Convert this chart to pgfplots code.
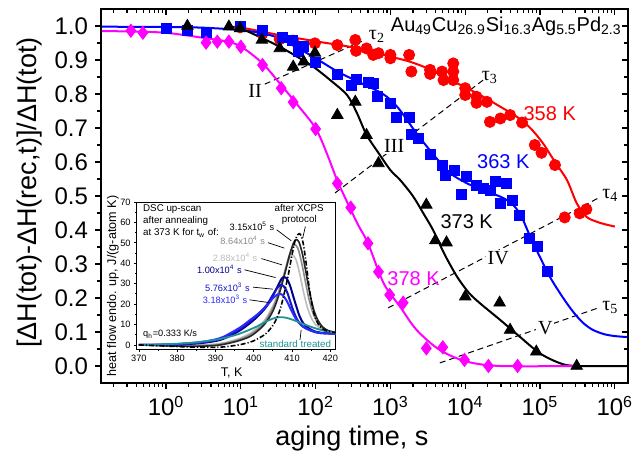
\documentclass[border=0pt]{standalone}
\usepackage{fontspec}
\setmainfont{Liberation Sans}
\newfontfamily\serif{Liberation Serif}
\usepackage{pgfplots}
\pgfplotsset{compat=1.18}

\definecolor{cRed}{RGB}{255,0,0}
\definecolor{cBlue}{RGB}{0,0,255}
\definecolor{cMag}{RGB}{255,0,255}
\definecolor{dscA}{HTML}{2B2BFF}
\definecolor{dscB}{HTML}{1414C8}
\definecolor{dscC}{HTML}{00008C}
\definecolor{dscD}{HTML}{BDBDBD}
\definecolor{dscE}{HTML}{8A8A8A}
\definecolor{dscF}{HTML}{262626}
\definecolor{tealstd}{HTML}{1F9393}

\newcommand{\fs}[1]{\fontsize{#1}{#1}\selectfont}

\begin{document}
\begin{tikzpicture}
\path[use as bounding box] (-50.5pt,-34pt) rectangle (271.5pt,191.5pt);

% ---------------- main axis ----------------
\begin{axis}[
  at={(0pt,0pt)}, anchor=south west,
  scale only axis, width=263.5pt, height=187pt,
  xmode=log,
  xmin=0.135, xmax=1.5e6, ymin=-0.05, ymax=1.05,
  xtick={1,10,100,1000,10000,100000,1000000},
  xticklabels={10\textsuperscript{0},10\textsuperscript{1},10\textsuperscript{2},10\textsuperscript{3},10\textsuperscript{4},10\textsuperscript{5},10\textsuperscript{6}},
  minor xtick={0.2,0.3,0.4,0.5,0.6,0.7,0.8,0.9,2,3,4,5,6,7,8,9,20,30,40,50,60,70,80,90,200,300,400,500,600,700,800,900,2000,3000,4000,5000,6000,7000,8000,9000,20000,30000,40000,50000,60000,70000,80000,90000,200000,300000,400000,500000,600000,700000,800000,900000},
  ytick={0,0.1,0.2,0.3,0.4,0.5,0.6,0.7,0.8,0.9,1.0},
  minor y tick num=1,
  yticklabel={\pgfmathprintnumber[assume math mode=true,fixed,fixed zerofill,precision=1]{\tick}},
  tick align=outside, xtick pos=left, ytick pos=left,
  major tick length=3pt, minor tick length=1.8pt,
  every tick/.style={black, line width=0.6pt},
  axis line style={line width=0.75pt},
  ticklabel style={font=\fs{12}},
  xlabel={aging time, s},
  ylabel={[ΔH(tot)-ΔH(rec,t)]/ΔH(tot)},
  xlabel style={font=\fs{13.5}, at={(axis description cs:0.476,-0.168)}, anchor=base},
  ylabel style={font=\fs{13.5}, at={(axis description cs:-0.1347,0.509)}, anchor=center},
]

% tau guide lines
\addplot[black, line width=0.5pt, dash pattern=on 3pt off 2pt] coordinates {(20.9,0.829) (457,0.959)};
\addplot[black, line width=0.5pt, dash pattern=on 3pt off 2pt] coordinates {(182,0.509) (17378,0.841)};
\addplot[black, line width=0.5pt, dash pattern=on 3pt off 2pt] coordinates {(933,0.171) (602560,0.494)};
\addplot[black, line width=0.5pt, dash pattern=on 3pt off 2pt] coordinates {(4571,0.009) (602560,0.171)};

% 358 K
\addplot[cRed, line width=1pt, smooth] coordinates {
(8.913,0.998) (17.78,0.985) (31.62,0.974) (100,0.955) (316.2,0.937) (1000,0.91)
(1820,0.895) (3162,0.875) (6310,0.841) (10000,0.82) (17378,0.792) (28184,0.765)
(48978,0.733) (74131,0.70) (109648,0.655) (158489,0.60) (229087,0.547)
(309030,0.479) (416869,0.439) (562341,0.425) (707946,0.418) (1000000,0.41)};
\addplot[only marks, mark=*, mark size=2.8pt, cRed] coordinates {
(9.77,0.996) (19.5,0.978) (33.1,0.961) (50.1,0.957) (97.7,0.949) (195,0.944)
(339,0.959) (347,0.927) (479,0.934) (589,0.915) (692,0.920) (1000,0.915) (1000,0.905)
(1778,0.915) (1905,0.866) (3388,0.871) (3388,0.859) (4898,0.866) (5129,0.841)
(6918,0.890) (6918,0.866) (6918,0.841) (10000,0.817) (10000,0.797) (14125,0.792)
(14125,0.774) (19498,0.777) (21380,0.718) (29512,0.728) (39811,0.738) (57544,0.716)
(85114,0.650) (104713,0.627) (158489,0.591) (213796,0.437) (338844,0.449) (416869,0.461)};

% 363 K
\addplot[cBlue, line width=1pt, smooth] coordinates {
(0.1349,0.998) (1,0.997) (3.162,0.995) (10,0.988) (19.95,0.978) (31.62,0.965)
(56.23,0.937) (100,0.905) (199.5,0.865) (354.8,0.838) (794.3,0.80) (1259,0.76)
(2239,0.684) (3981,0.615) (6310,0.567) (10000,0.54) (15849,0.52) (22387,0.508)
(31623,0.495) (43652,0.474) (56234,0.44) (74131,0.38) (100000,0.32) (134896,0.263)
(177828,0.22) (229087,0.184) (295121,0.152) (380189,0.126) (501187,0.107)
(707946,0.094) (1000000,0.088) (1500000,0.085)};
\addplot[only marks, mark=square*, mark size=2.5pt, cBlue] coordinates {
(1,0.993) (1.93,0.988) (3.43,0.980) (9.77,0.998) (19.5,0.986) (35.5,0.967) (49,0.957)
(58.9,0.924) (69.2,0.939) (100,0.893) (195,0.859) (302,0.824) (347,0.844) (501,0.834)
(589,0.831) (676,0.794) (988,0.771) (1202,0.731) (1778,0.731) (1905,0.680) (2344,0.670)
(3388,0.621) (5012,0.589) (5370,0.562) (7244,0.576) (8913,0.506) (10471,0.559)
(14125,0.532) (17378,0.523) (21380,0.516) (25119,0.542) (29174,0.478) (35481,0.537)
(42658,0.486) (52481,0.444) (72444,0.375) (91201,0.353) (125893,0.277)};

% 373 K
\addplot[black, line width=1pt, smooth] coordinates {
(6.31,0.999) (9.77,0.993) (17.78,0.968) (33.11,0.939) (56.23,0.91) (93.33,0.88)
(158.5,0.84) (263,0.797) (354.8,0.745) (478.6,0.68) (676.1,0.63) (1000,0.576)
(1349,0.547) (1995,0.50) (2754,0.449) (3715,0.40) (5248,0.33) (7762,0.263)
(11220,0.215) (15849,0.184) (29512,0.135) (53703,0.086) (100000,0.037)
(186209,0.008) (309030,0.0) (1500000,0.0)};
\addplot[only marks, mark=triangle*, mark size=3.3pt, black] coordinates {
(1.93,1.0) (6.92,0.998) (9.77,0.993) (19.1,0.959) (33.1,0.934) (50.1,0.880) (69.2,0.895)
(97.7,0.921) (195,0.738) (339,0.777) (479,0.679) (692,0.596) (3020,0.474) (3981,0.369)
(5623,0.363) (10000,0.204) (28840,0.186) (39811,0.106) (89125,0.042) (309030,0.0)};

% 378 K
\addplot[cMag, line width=1pt, smooth] coordinates {
(0.1349,0.985) (0.3162,0.984) (1,0.98) (3.428,0.964) (6.31,0.955) (10,0.94)
(19.5,0.89) (34.67,0.826) (56.23,0.77) (100,0.699) (141.3,0.625) (195,0.545)
(288.4,0.464) (380.2,0.41) (501.2,0.361) (812.8,0.243) (1349,0.174) (2239,0.106)
(4571,0.047) (10471,0.013) (29512,0.0) (281838,0.0)};
\addplot[only marks, mark=diamond*, mark size=3.3pt, cMag] coordinates {
(0.339,0.986) (0.490,0.980) (3.43,0.951) (4.85,0.954) (6.92,0.954) (10,0.939)
(19.5,0.885) (34.7,0.817) (50.1,0.776) (100,0.697) (195,0.537) (295,0.466)
(501,0.361) (692,0.277) (977,0.209) (1479,0.186) (3020,0.052) (5012,0.055)
(9772,0.018) (20417,0.0) (50119,0.0)};

% labels
\node[cRed, font=\fs{10}] at (axis cs:134896,0.743) {358 K};
\node[cBlue, font=\fs{10}] at (axis cs:32359,0.601) {363 K};
\node[black, font=\fs{10}] at (axis cs:10471,0.424) {373 K};
\node[cMag, font=\fs{10}] at (axis cs:2042,0.258) {378 K};
\node[font=\serif\fs{10}] at (axis cs:15.5,0.809) {II};
\node[font=\serif\fs{10}, fill=white, inner sep=0.8pt] at (axis cs:1122,0.647) {III};
\node[font=\serif\fs{10}, fill=white, inner sep=0.8pt] at (axis cs:27542,0.318) {IV};
\node[font=\serif\fs{10}, fill=white, inner sep=0.8pt] at (axis cs:117490,0.112) {V};
\node[font=\serif\fs{10}] at (axis cs:661,0.968) {τ\textsubscript{2}};
\node[font=\serif\fs{10}] at (axis cs:21380,0.85) {τ\textsubscript{3}};
\node[font=\serif\fs{10}] at (axis cs:870964,0.503) {τ\textsubscript{4}};
\node[font=\serif\fs{10}] at (axis cs:870964,0.171) {τ\textsubscript{5}};
\node[font=\fs{10}, anchor=base east, inner sep=0pt] at (axis cs:1.25e6,0.983)
  {Au\textsubscript{49}Cu\textsubscript{26.9}Si\textsubscript{16.3}Ag\textsubscript{5.5}Pd\textsubscript{2.3}};
\end{axis}

% top and right ticks pointing inward
\begin{axis}[
  at={(0pt,0pt)}, anchor=south west,
  scale only axis, width=263.5pt, height=187pt,
  xmode=log,
  xmin=0.135, xmax=1.5e6, ymin=-0.05, ymax=1.05,
  xtick={1,10,100,1000,10000,100000,1000000},
  minor xtick={0.2,0.3,0.4,0.5,0.6,0.7,0.8,0.9,2,3,4,5,6,7,8,9,20,30,40,50,60,70,80,90,200,300,400,500,600,700,800,900,2000,3000,4000,5000,6000,7000,8000,9000,20000,30000,40000,50000,60000,70000,80000,90000,200000,300000,400000,500000,600000,700000,800000,900000},
  ytick={0,0.1,0.2,0.3,0.4,0.5,0.6,0.7,0.8,0.9,1.0},
  minor y tick num=1,
  xticklabels={}, yticklabels={},
  tick align=inside, xtick pos=right, ytick pos=right,
  major tick length=3pt, minor tick length=1.8pt,
  every tick/.style={black, line width=0.6pt},
  axis line style={line width=0.75pt},
]
\end{axis}

% ---------------- inset ----------------
\begin{axis}[
  at={(18pt,17pt)}, anchor=south west,
  scale only axis, width=99.5pt, height=73.5pt,
  xmin=369.5, xmax=421.5, ymin=-2, ymax=70,
  xtick={370,380,390,400,410,420},
  ytick={0,10,20,30,40,50,60,70},
  minor x tick num=1, minor y tick num=1,
  xticklabel={\pgfmathprintnumber[assume math mode=true]{\tick}},
  yticklabel={\pgfmathprintnumber[assume math mode=true]{\tick}},
  tick align=outside, xtick pos=left, ytick pos=left,
  major tick length=1.5pt, minor tick length=0.8pt,
  every tick/.style={black, line width=0.4pt},
  axis line style={line width=0.5pt},
  axis background/.style={fill=white},
  ticklabel style={font=\fs{4.6}, inner sep=1.5pt},
  xlabel={T, K},
  ylabel={heat flow endo. up, J/(g-atom K)},
  xlabel style={font=\fs{6.3}, at={(axis description cs:0.476,-0.163)}, anchor=center},
  ylabel style={font=\fs{6.3}, at={(axis description cs:-0.121,0.429)}, anchor=center},
]
\addplot[dscD, line width=0.8pt, smooth] coordinates {
(370,0) (375,-0.1) (380,-0.2) (385,-0.1) (390,0.4) (393,1.4) (396,3) (398.9,5.5)
(401,8.5) (403,12.5) (405,19) (406.5,26) (407.8,34) (409,41) (410,44) (411,42)
(412,35) (413,26) (414,18.5) (415,13.5) (416,10.3) (417.5,8) (419.5,6.6) (421.5,6)};
\addplot[dscE, line width=0.8pt, smooth] coordinates {
(370,0) (375,-0.2) (380,-0.4) (385,-0.4) (390,0) (393,1) (396,2.5) (398.9,4.8)
(401,7.6) (403,11.5) (405,18) (406.5,25.5) (408,35) (409.3,44) (410.5,49)
(411.5,47.5) (412.5,40.5) (413.5,31) (414.5,22) (415.5,15.5) (416.5,11.5)
(418,8.3) (419.5,6.9) (421.5,6)};
\addplot[dscF, line width=0.8pt, smooth] coordinates {
(370,0) (375,-0.3) (380,-0.6) (385,-0.7) (390,-0.3) (393,0.6) (396,2) (398.9,4)
(401,6.8) (403,10.5) (405,16.5) (406.5,24) (408,34) (409.3,43.5) (410.3,49.5)
(411,51.5) (411.8,50.5) (412.8,44) (413.8,34) (414.8,24) (415.8,16.5) (416.8,12)
(418,8.8) (419.5,7) (421.5,6.1)};
\addplot[dscC, line width=1pt, smooth] coordinates {
(370,0) (375,0) (380,0.2) (385,0.7) (388,1.3) (390,1.9) (392,2.9) (394.6,5.2)
(396.8,7.6) (398.9,10.5) (401,13.9) (403.3,18.7) (405,24) (406.2,28.5) (407.2,32.2)
(407.9,33.2) (408.7,32.3) (409.5,29) (410.3,24) (411.2,18.5) (412,14) (413,10.5)
(414.5,8) (416,6.6) (417.5,6) (419.5,5.7) (421.5,5.6)};
\addplot[dscB, line width=1pt, smooth] coordinates {
(370,0) (375,0.05) (380,0.3) (385,0.9) (388,1.6) (390,2.3) (392,3.4) (394.6,5.8)
(396.8,8.3) (398.9,11.3) (401,14.6) (403.3,19.3) (405,24.5) (406,27.5) (407,29.3)
(407.8,28.8) (408.7,26) (409.5,21.5) (410.3,17) (411.2,13) (412,10.7) (413,8.8)
(414.5,7.3) (416,6.3) (417.5,5.8) (419.5,5.6) (421.5,5.5)};
\addplot[dscA, line width=1pt, smooth] coordinates {
(370,0) (375,0.1) (380,0.4) (385,1.1) (388,1.9) (390,2.7) (392,3.9) (394.6,6.5)
(396.8,9) (398.9,12) (401,15) (403.3,19) (405,22.8) (405.9,24.3) (406.6,25)
(407.5,24.5) (408.5,22) (409.3,19) (410.2,15.5) (411,12.8) (411.9,10.6) (413,8.8)
(414.5,7.4) (416,6.3) (417.5,5.8) (419.5,5.6) (421.5,5.5)};
\addplot[tealstd, line width=0.9pt, smooth] coordinates {
(370,0) (375,0.2) (380,0.6) (385,1.3) (390,2.5) (393,3.7) (396,5.3) (399,7.5)
(401,9.2) (403,11.2) (405,12.9) (406.8,13.6) (408.5,13.3) (410.2,12.3) (412,11)
(414,9.5) (416,8.2) (418,7.1) (420,6.3) (421.5,5.9)};
\addplot[black, line width=0.8pt, smooth, dash pattern=on 2.5pt off 1pt on 0.6pt off 1pt] coordinates {
(370,0) (375,-0.4) (380,-0.8) (385,-1.1) (390,-1.2) (393,-0.8) (396,0) (398,0.8)
(400,2) (402,4) (403.3,5.7) (405,9.5) (406,13) (407,18) (408,25.5) (409,34) (410,44)
(410.8,51) (411.5,54) (411.9,54.5) (412.4,53.5) (413,49) (413.7,40) (414.5,28)
(415.2,20) (415.8,15) (416.5,11.5) (417.3,9) (418.5,7.3) (420,6.4) (421.5,6)};

% annotations
\node[anchor=north west, align=left, font=\fontsize{4.9}{5.85}\selectfont, inner sep=0pt] at (axis cs:371,68.8)
  {DSC up-scan\\after annealing\\at 373 K for t\textsubscript{w} of:};
\node[anchor=north, align=center, font=\fontsize{4.9}{5.6}\selectfont, inner sep=0pt] at (axis cs:411.9,69)
  {after XCPS\\protocol};
\node[anchor=east, font=\fs{4.6}, inner sep=0.5pt, black] at (axis cs:405.7,58) {3.15x10\textsuperscript{5} s};
\node[anchor=east, font=\fs{4.6}, inner sep=0.5pt, dscE] at (axis cs:403.3,51) {8.64x10\textsuperscript{4} s};
\node[anchor=east, font=\fs{4.6}, inner sep=0.5pt, dscD] at (axis cs:401.3,42.8) {2.88x10\textsuperscript{4} s};
\node[anchor=east, font=\fs{4.6}, inner sep=0.5pt, dscC] at (axis cs:397.2,36.8) {1.00x10\textsuperscript{4} s};
\node[anchor=east, font=\fs{4.6}, inner sep=0.5pt, dscB] at (axis cs:399.3,28.3) {5.76x10\textsuperscript{3} s};
\node[anchor=east, font=\fs{4.6}, inner sep=0.5pt, dscA] at (axis cs:398.7,22.4) {3.18x10\textsuperscript{3} s};
\node[anchor=west, font=\fs{4.6}, inner sep=0pt] at (axis cs:371,5.4) {q\textsubscript{h}=0.333 K/s};
\node[font=\fs{4.9}, inner sep=0pt, tealstd] at (axis cs:410.9,0.3) {standard treated};
\draw[black, line width=0.35pt] (axis cs:406,56.4) -- (axis cs:409.8,51);
\draw[black, line width=0.35pt] (axis cs:403.7,50.1) -- (axis cs:408,47.4);
\draw[black, line width=0.35pt] (axis cs:402,42.3) -- (axis cs:407.4,39.2);
\draw[black, line width=0.35pt] (axis cs:397.6,36.8) -- (axis cs:405.7,33);
\draw[black, line width=0.35pt] (axis cs:399.8,28.3) -- (axis cs:405,27.3);
\draw[black, line width=0.35pt] (axis cs:398.9,22.1) -- (axis cs:404.1,20.7);
\draw[black, line width=0.35pt] (axis cs:413.5,58) -- (axis cs:412.8,52.3);
\draw[black, line width=0.35pt] (axis cs:412.1,2.5) -- (axis cs:412.4,7.4);
\end{axis}
\end{tikzpicture}
\end{document}
